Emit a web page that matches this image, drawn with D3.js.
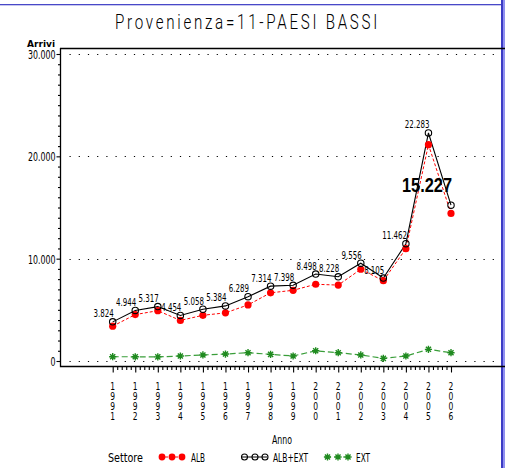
<!DOCTYPE html>
<html>
<head>
<meta charset="utf-8">
<script src="https://cdn.jsdelivr.net/npm/d3@7"></script>
<style>
  html, body { margin: 0; padding: 0; background: #fff; }
  svg { display: block; }
</style>
</head>
<body>
<svg id="chart" width="505" height="468"></svg>
<script>
// ---- data ----
const years = [1991,1992,1993,1994,1995,1996,1997,1998,1999,2000,2001,2002,2003,2004,2005,2006];
const albExt = [3824,4944,5317,4454,5058,5384,6289,7314,7398,8498,8228,9556,8105,11462,22283,15227];
const alb    = [3404,4534,4917,3964,4468,4704,5479,6664,6908,7498,7418,8966,7845,10972,21143,14417];
const ext    = [420,410,400,490,590,680,810,650,490,1000,810,590,260,490,1140,810];
const yTicks = [0,10000,20000,30000];
const title = "Provenienza=11-PAESI BASSI";
const yLabel = "Arrivi";
const xLabel = "Anno";
const legendTitle = "Settore";
const seriesNames = ["ALB","ALB+EXT","EXT"];

// ---- setup ----
const svg = d3.select("#chart");
const FONT = '"DejaVu Sans", sans-serif';
const itLocale = d3.formatLocale({decimal: ",", thousands: ".", grouping: [3], currency: ["€",""]});
const fmt = itLocale.format(",d");

// squeeze a text to a given width (narrow SAS-like lettering)
function narrow(sel, w) {
  sel.attr("textLength", w).attr("lengthAdjust", "spacingAndGlyphs");
  return sel;
}
function strW(s, digitW, dotW) {
  let w = 0;
  for (const c of s) w += (c === "." ? dotW : digitW);
  return w;
}

const frame = {left: 60, top: 48, right: 505, bottom: 366};
const x = d3.scaleLinear().domain([1991, 2006]).range([112.7, 451]);
const y = d3.scaleLinear().domain([0, 30000]).range([361, 54]);

// blue border of the screenshot
svg.append("rect").attr("x", 0).attr("y", 4).attr("width", 502).attr("height", 1.3).attr("fill", "#4848c8");
svg.append("rect").attr("x", 501).attr("y", 0).attr("width", 2).attr("height", 468).attr("fill", "#3c3cc4");
svg.append("rect").attr("x", 503).attr("y", 0).attr("width", 2).attr("height", 468).attr("fill", "#9090f0");

// title
narrow(svg.append("text").attr("x", 115).attr("y", 28.5)
  .attr("font-family", "Roboto, 'DejaVu Sans', sans-serif").attr("font-weight", 300)
  .attr("font-size", 19.5).attr("letter-spacing", 3.5), 265)
  .text(title);

// dotted grid lines
svg.append("g").selectAll("line").data(yTicks).join("line")
  .attr("x1", 69.5).attr("x2", 500)
  .attr("y1", d => Math.round(y(d)) + 0.5).attr("y2", d => Math.round(y(d)) + 0.5)
  .attr("stroke", "#000").attr("stroke-width", 1.2).attr("stroke-dasharray", "1.2,8");

// frame
svg.append("path")
  .attr("d", `M${frame.left+0.5},${frame.top} L${frame.left+0.5},${frame.bottom+0.5} L${frame.right},${frame.bottom+0.5} M${frame.left},${frame.top+0.5} L${frame.right},${frame.top+0.5}`)
  .attr("fill", "none").attr("stroke", "#000").attr("stroke-width", 1.3);

// y axis
const yMinor = d3.range(0, 30001, 1000).filter(v => v % 10000 !== 0);
const gyMinor = svg.append("g").attr("transform", `translate(${frame.left+0.5},0)`)
  .call(d3.axisLeft(y).tickValues(yMinor).tickSize(2.5).tickFormat(""));
gyMinor.select(".domain").remove();
const gy = svg.append("g").attr("transform", `translate(${frame.left+0.5},0)`)
  .call(d3.axisLeft(y).tickValues(yTicks).tickSize(4).tickPadding(1).tickFormat(fmt));
gy.select(".domain").remove();
gy.selectAll("text").attr("font-family", FONT).attr("font-size", 12).attr("fill", "#000").attr("dy", "0.38em")
  .each(function(d) { const s = fmt(d); narrow(d3.select(this), strW(s, 5, 2.5)); });
svg.selectAll(".tick line").attr("stroke", "#000").attr("stroke-width", 1.1);

narrow(svg.append("text").attr("x", 27).attr("y", 46.5)
  .attr("font-family", FONT).attr("font-size", 8.5).attr("font-weight", "bold"), 28).text(yLabel);

// x axis
const xMinor = d3.range(0, 76).filter(k => k % 5 !== 0).map(k => 1991 + k * 0.2);
const gxMinor = svg.append("g").attr("transform", `translate(0,${frame.bottom+0.5})`)
  .call(d3.axisBottom(x).tickValues(xMinor).tickSize(3.5).tickFormat(""));
gxMinor.select(".domain").remove();
const gx = svg.append("g").attr("transform", `translate(0,${frame.bottom+0.5})`)
  .call(d3.axisBottom(x).tickValues(years).tickSize(6).tickFormat(""));
gx.select(".domain").remove();
svg.selectAll(".tick line").attr("stroke", "#000").attr("stroke-width", 1.1);

// stacked year labels
const yl = svg.append("g").attr("font-family", FONT).attr("font-size", 10);
years.forEach(yr => {
  String(yr).split("").forEach((ch, i) => {
    narrow(yl.append("text").attr("x", x(yr) - 2.4).attr("y", 389.5 + i * 10.3), 4.8).text(ch);
  });
});
narrow(svg.append("text").attr("x", 272).attr("y", 443.5)
  .attr("font-family", FONT).attr("font-size", 11.5), 20).text(xLabel);

// point labels (drawn before markers)
const lab = svg.append("g").attr("font-family", FONT).attr("font-size", 11);
years.forEach((yr, i) => {
  if (i === years.length - 1) return;
  const s = fmt(albExt[i]);
  const w = strW(s, 4.5, 2.2);
  narrow(lab.append("text").attr("x", x(yr) + 1 - w).attr("y", y(albExt[i]) - 4.5), w).text(s);
});

// lines
const lineGen = arr => d3.line().x((d, i) => x(years[i])).y(d => y(d))(arr);
svg.append("path").attr("d", lineGen(ext)).attr("fill", "none")
  .attr("stroke", "#3a9e3a").attr("stroke-width", 1.2).attr("stroke-dasharray", "6,3");
svg.append("path").attr("d", lineGen(alb)).attr("fill", "none")
  .attr("stroke", "#ff0000").attr("stroke-width", 1).attr("stroke-dasharray", "3,2");
svg.append("path").attr("d", lineGen(albExt)).attr("fill", "none")
  .attr("stroke", "#000").attr("stroke-width", 1.1);

// markers
function star(g, cx, cy) {
  const r = 3.6;
  const p = [];
  for (let k = 0; k < 4; k++) {
    const a = k * Math.PI / 4;
    p.push(`M${cx - r*Math.cos(a)},${cy - r*Math.sin(a)}L${cx + r*Math.cos(a)},${cy + r*Math.sin(a)}`);
  }
  g.append("path").attr("d", p.join("")).attr("stroke", "#1f8a1f").attr("stroke-width", 1.4).attr("fill", "none");
}
const mk = svg.append("g");
years.forEach((yr, i) => star(mk, x(yr), y(ext[i])));
mk.selectAll("circle.alb").data(alb).join("circle").attr("class", "alb")
  .attr("cx", (d, i) => x(years[i])).attr("cy", d => y(d)).attr("r", 3.6).attr("fill", "#ff0000");
mk.selectAll("circle.tot").data(albExt).join("circle").attr("class", "tot")
  .attr("cx", (d, i) => x(years[i])).attr("cy", d => y(d)).attr("r", 3.2)
  .attr("fill", "none").attr("stroke", "#000").attr("stroke-width", 1.1);

// big label for last point
const li = years.length - 1;
narrow(svg.append("text").attr("x", x(years[li]) + 1 - 50).attr("y", y(albExt[li]) - 13)
  .attr("font-family", "'Liberation Sans', Arial, sans-serif")
  .attr("font-size", 21).attr("font-weight", "bold"), 50)
  .text(fmt(albExt[li]));

// legend
const lg = svg.append("g").attr("font-family", FONT).attr("font-size", 11.5);
const ly = 457;
const lty = 461.5;
narrow(lg.append("text").attr("x", 108).attr("y", lty), 35).text(legendTitle);
// ALB
lg.append("line").attr("x1", 160).attr("x2", 184).attr("y1", ly).attr("y2", ly)
  .attr("stroke", "#ff0000").attr("stroke-dasharray", "3,2");
[162, 172, 182].forEach(cx => lg.append("circle").attr("cx", cx).attr("cy", ly).attr("r", 3.4).attr("fill", "#ff0000"));
narrow(lg.append("text").attr("x", 191).attr("y", lty), 14).text(seriesNames[0]);
// ALB+EXT
lg.append("line").attr("x1", 242).attr("x2", 267).attr("y1", ly).attr("y2", ly).attr("stroke", "#000");
[244.5, 255, 265].forEach(cx => lg.append("circle").attr("cx", cx).attr("cy", ly).attr("r", 3)
  .attr("fill", "none").attr("stroke", "#000").attr("stroke-width", 1.1));
narrow(lg.append("text").attr("x", 273).attr("y", lty), 35).text(seriesNames[1]);
// EXT
lg.append("line").attr("x1", 325).attr("x2", 350).attr("y1", ly).attr("y2", ly)
  .attr("stroke", "#3a9e3a").attr("stroke-dasharray", "6,3").attr("stroke-width", 1.2);
[327.5, 338, 348].forEach(cx => star(lg, cx, ly));
narrow(lg.append("text").attr("x", 356).attr("y", lty), 14).text(seriesNames[2]);
</script>
</body>
</html>
